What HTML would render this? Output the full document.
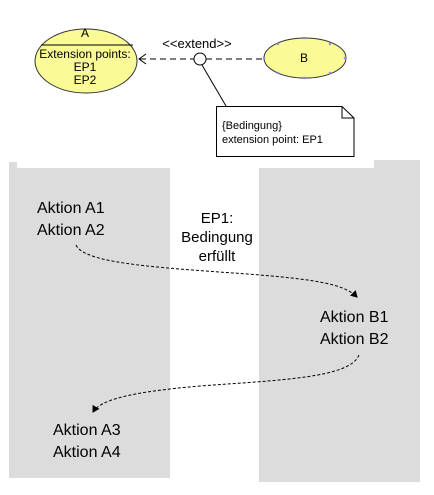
<!DOCTYPE html>
<html><head><style>body{margin:0;background:#fff}svg{display:block}</style></head><body>
<svg width="434" height="495" viewBox="0 0 434 495" xmlns="http://www.w3.org/2000/svg" font-family="Liberation Sans, sans-serif">
<defs><marker id="ah" markerWidth="8" markerHeight="8" refX="6" refY="4" orient="auto" markerUnits="userSpaceOnUse"><path d="M0,0 L7,4 L0,8 Z" fill="#000"/></marker></defs>
<rect x="9" y="162" width="161" height="316" fill="#dcdcdc"/>
<rect x="259" y="160" width="161" height="322" fill="#dcdcdc"/>
<rect x="17" y="150" width="357" height="18" fill="#fff"/>
<ellipse cx="86" cy="61" rx="51" ry="32" fill="#fafa96" stroke="#333" stroke-width="1"/>
<line x1="41" y1="45" x2="133" y2="45" stroke="#000" stroke-width="1"/>
<text x="85" y="37" font-size="12" text-anchor="middle">A</text>
<text x="85" y="58" font-size="12" text-anchor="middle">Extension points:</text>
<text x="85" y="71" font-size="12" text-anchor="middle">EP1</text>
<text x="85" y="84" font-size="12" text-anchor="middle">EP2</text>
<ellipse cx="305" cy="58" rx="41" ry="20" fill="#fafa96" stroke="#333" stroke-width="1"/>
<g stroke="#88f" stroke-width="1">
<path d="M277,43l2,2m0,-2l-2,2 M303,37l2,2m0,-2l-2,2 M329,43l2,2m0,-2l-2,2 M344,57l2,2m0,-2l-2,2 M329,72l2,2m0,-2l-2,2 M303,77l2,2m0,-2l-2,2 M277,72l2,2m0,-2l-2,2 M263,57l2,2m0,-2l-2,2"/>
</g>
<text x="304" y="62" font-size="12" text-anchor="middle">B</text>
<line x1="140" y1="59" x2="194" y2="59" stroke="#000" stroke-dasharray="6,4"/>
<line x1="206" y1="59" x2="264" y2="59" stroke="#000" stroke-dasharray="6,4"/>
<path d="M146,54 L139,59 L146,64" fill="none" stroke="#000"/>
<circle cx="200" cy="59" r="6" fill="#fff" stroke="#000"/>
<text x="197" y="48" font-size="13" text-anchor="middle">&lt;&lt;extend&gt;&gt;</text>
<line x1="202" y1="65" x2="226" y2="106" stroke="#000"/>
<path d="M216.5,106.5 H342 L354,118 V156.5 H216.5 Z M342,106.5 V118 H354" fill="#fff" stroke="#000"/>
<text x="222" y="129" font-size="11">{Bedingung}</text>
<text x="222" y="143" font-size="11">extension point: EP1</text>
<g font-size="16">
<text x="37" y="213">Aktion A1</text><text x="37" y="235">Aktion A2</text>
<text x="320" y="322">Aktion B1</text><text x="320" y="344">Aktion B2</text>
<text x="53" y="435">Aktion A3</text><text x="53" y="457">Aktion A4</text>
</g>
<g font-size="15" text-anchor="middle">
<text x="217" y="223">EP1:</text><text x="217" y="242">Bedingung</text><text x="217" y="261">erfüllt</text>
</g>
<path d="M76,245 C85,265 170,268 260,275 C320,280 345,285 357,297" fill="none" stroke="#000" stroke-dasharray="3,2" marker-end="url(#ah)"/>
<path d="M359,355 C350,378 280,380 200,386 C130,392 100,400 93,412" fill="none" stroke="#000" stroke-dasharray="3,2" marker-end="url(#ah)"/>
</svg>
</body></html>
